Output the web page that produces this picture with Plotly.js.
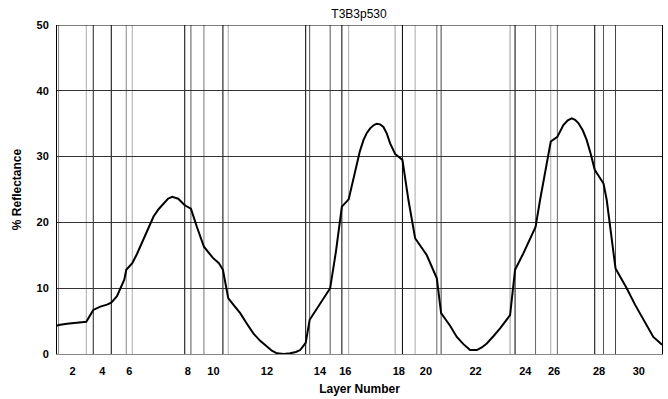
<!DOCTYPE html>
<html>
<head>
<meta charset="utf-8">
<script src="https://cdn.plot.ly/plotly-3.0.1.min.js"></script>
<style>
  html, body { margin: 0; padding: 0; background: #fff; }
  #chart { width: 668px; height: 399px; }
</style>
</head>
<body>
<div id="chart"></div>
<script>
// Layer stack: physical thickness of each layer (nm), layer 1 on the left
const layerThickness = [16, 277, 70, 180, 150, 60, 525, 62, 130, 190,
                        53, 775, 40, 205, 117, 68, 465, 73, 127, 217,
                        43, 690, 50, 205, 152, 66, 374, 88, 120, 465];

// Grey level of each internal interface line (between layer i and i+1)
const interfaceShade = ['#888', '#aaa', '#222', '#000', '#888', '#aaa', '#000', '#555', '#777', '#000',
                        '#aaa', '#000', '#555', '#555', '#000', '#aaa', '#999', '#000', '#aaa', '#666',
                        '#444', '#999', '#000', '#666', '#aaa', '#666', '#000', '#555', '#444'];

// Reflectance profile through the stack: depth (nm) and % reflectance
const depth = [0, 16, 100, 200, 293, 363, 433, 500, 543, 600,
               640, 673, 693, 753, 800, 833, 900, 966, 1016, 1066,
               1110, 1153, 1213, 1278, 1340, 1400, 1470, 1560, 1620, 1660,
               1713, 1770, 1833, 1900, 1966, 2033, 2100, 2150, 2200, 2270,
               2333, 2390, 2433, 2488, 2528, 2633, 2733, 2790, 2850, 2918,
               2990, 3030, 3066, 3100, 3133, 3170, 3200, 3233, 3266, 3300,
               3333, 3383, 3456, 3516, 3583, 3700, 3800, 3843, 3890, 3933,
               4000, 4066, 4133, 4200, 4250, 4300, 4366, 4433, 4533, 4583,
               4666, 4788, 4833, 4900, 4940, 5006, 5066, 5110, 5150, 5183,
               5216, 5260, 5300, 5340, 5380, 5468, 5500, 5588, 5640, 5700,
               5783, 5866, 5916, 5966, 6010, 6053];
const reflectance = [4.3, 4.4, 4.6, 4.8, 4.9, 6.7, 7.2, 7.5, 7.8, 8.8,
                     10.2, 11.3, 12.8, 13.8, 15.2, 16.3, 18.7, 20.9, 22.0, 22.9,
                     23.6, 23.9, 23.6, 22.6, 22.1, 19.3, 16.3, 14.6, 13.8, 12.8,
                     8.5, 7.4, 6.2, 4.6, 3.1, 2.0, 1.1, 0.5, 0.1, 0.0,
                     0.1, 0.3, 0.6, 1.7, 5.2, 7.6, 10.0, 15.5, 22.4, 23.5,
                     28.5, 30.8, 32.5, 33.6, 34.3, 34.8, 35.0, 34.9, 34.5, 33.5,
                     32.0, 30.4, 29.5, 23.4, 17.6, 15.0, 11.5, 6.2, 5.2, 4.3,
                     2.6, 1.5, 0.6, 0.6, 1.0, 1.6, 2.7, 3.9, 5.9, 12.8,
                     15.3, 19.3, 23.4, 29.0, 32.3, 33.0, 34.8, 35.5, 35.8, 35.6,
                     35.1, 34.0, 32.5, 30.4, 28.0, 25.9, 23.4, 13.0, 11.6, 10.0,
                     7.5, 5.2, 3.8, 2.6, 2.0, 1.4];

// Layer numbers shown on the x axis (every second layer)
const labelledLayers = [2, 4, 6, 8, 10, 12, 14, 16, 18, 20, 22, 24, 26, 28, 30];

// Interface positions from cumulative thickness
const boundaries = [0];
layerThickness.forEach(t => boundaries.push(boundaries[boundaries.length - 1] + t));
const totalDepth = boundaries[boundaries.length - 1];

// Tick at the centre of each labelled layer
const tickPos = labelledLayers.map(n => (boundaries[n - 1] + boundaries[n]) / 2);
const tickText = labelledLayers.map(String);

const shapes = [];
for (let i = 1; i < boundaries.length - 1; i++) {
  shapes.push({
    type: 'line', xref: 'x', yref: 'y',
    x0: boundaries[i], x1: boundaries[i], y0: 0, y1: 50,
    line: { color: interfaceShade[i - 1], width: 1 },
    layer: 'below'
  });
}
// top frame edge
shapes.push({
  type: 'line', xref: 'paper', yref: 'y', x0: 0, x1: 1, y0: 50, y1: 50,
  line: { color: '#000', width: 1 }
});

const trace = {
  x: depth, y: reflectance,
  type: 'scatter', mode: 'lines',
  line: { color: '#000', width: 2 },
  hoverinfo: 'skip'
};

const tickFont = { family: 'Liberation Sans, Arial, sans-serif', size: 11, color: '#000', weight: 'bold' };

const layout = {
  width: 668, height: 399,
  margin: { l: 57, r: 6, t: 25, b: 45, pad: 0 },
  paper_bgcolor: '#fff', plot_bgcolor: '#fff',
  showlegend: false,
  title: {
    text: 'T3B3p530',
    font: { family: 'Liberation Sans, Arial, sans-serif', size: 12, color: '#000' },
    x: 0.5375, xanchor: 'center', xref: 'container',
    y: 1 - 14 / 399, yanchor: 'middle', yref: 'container'
  },
  xaxis: {
    range: [0, totalDepth],
    tickmode: 'array', tickvals: tickPos, ticktext: tickText,
    ticks: 'outside', ticklen: 7, tickcolor: 'rgba(0,0,0,0)',
    showgrid: false, zeroline: false,
    showline: true, linecolor: '#888', linewidth: 1,
    tickfont: tickFont,
    title: { text: 'Layer Number', standoff: 8,
             font: { family: 'Liberation Sans, Arial, sans-serif', size: 12, color: '#000', weight: 'bold' } },
    automargin: false, fixedrange: true
  },
  yaxis: {
    range: [0, 50],
    tickvals: [0, 10, 20, 30, 40, 50],
    ticks: 'outside', ticklen: 5, tickcolor: 'rgba(0,0,0,0)',
    showgrid: true, gridcolor: '#333', gridwidth: 1,
    zeroline: false,
    showline: true, linecolor: '#000', linewidth: 1, mirror: true,
    tickfont: tickFont,
    title: { text: '% Reflectance', standoff: 12,
             font: { family: 'Liberation Sans, Arial, sans-serif', size: 12, color: '#000', weight: 'bold' } },
    automargin: false, fixedrange: true
  },
  shapes: shapes
};

Plotly.newPlot('chart', [trace], layout, { displayModeBar: false, staticPlot: true });
</script>
</body>
</html>
